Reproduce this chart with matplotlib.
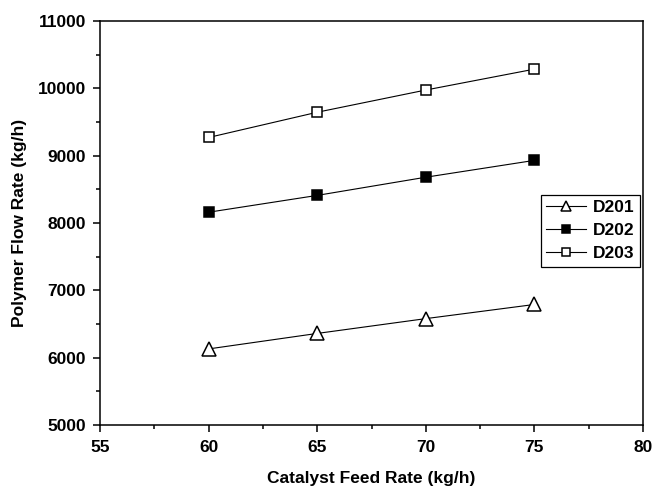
import matplotlib
matplotlib.use('Agg')
from matplotlib import pyplot as plt
from matplotlib import rcParams
from matplotlib.ticker import MultipleLocator

rcParams.update({
  'font.family': 'sans-serif',
  'font.sans-serif': ['Liberation Sans', 'DejaVu Sans'],
  'font.weight': 'bold',
  'axes.labelweight': 'bold',
  'axes.linewidth': 1.1,
  'xtick.direction': 'out',
  'ytick.direction': 'out',
})

feed_rate = [60, 65, 70, 75]
d201 = [6130, 6360, 6580, 6790]
d202 = [8160, 8410, 8680, 8930]
d203 = [9270, 9645, 9975, 10285]

fig = plt.figure(figsize=(6.55, 4.86), dpi=100)
ax = fig.add_axes([0.1527, 0.1255, 0.829, 0.8313])

ax.plot(feed_rate, d201, '-', color='black', lw=0.8, marker='^', ms=10,
        mfc='white', mec='black', mew=1.1, label='D201')
ax.plot(feed_rate, d202, '-', color='black', lw=0.8, marker='s', ms=7.5,
        mfc='black', mec='black', mew=1.1, label='D202')
ax.plot(feed_rate, d203, '-', color='black', lw=0.8, marker='s', ms=7.5,
        mfc='white', mec='black', mew=1.1, label='D203')

ax.set_xlim(55, 80)
ax.set_ylim(5000, 11000)
ax.xaxis.set_major_locator(MultipleLocator(5))
ax.xaxis.set_minor_locator(MultipleLocator(2.5))
ax.yaxis.set_major_locator(MultipleLocator(1000))
ax.yaxis.set_minor_locator(MultipleLocator(500))
ax.tick_params(which='major', length=5, width=1.1, labelsize=12.5, pad=5)
ax.tick_params(which='minor', length=3, width=1.1)
ax.tick_params(axis='x', pad=6)

ax.set_xlabel('Catalyst Feed Rate (kg/h)', fontsize=12.5, labelpad=11)
ax.set_ylabel('Polymer Flow Rate (kg/h)', fontsize=12.5, labelpad=8)

leg = ax.legend(loc='upper left', bbox_to_anchor=(0.812, 0.569), fontsize=12.5,
                markerscale=0.7, handlelength=2.3, handletextpad=0.4,
                labelspacing=0.45, borderpad=0.3, borderaxespad=0,
                fancybox=False, framealpha=1, edgecolor='black')
leg.get_frame().set_linewidth(0.9)

fig.savefig('out.png', dpi=100)
